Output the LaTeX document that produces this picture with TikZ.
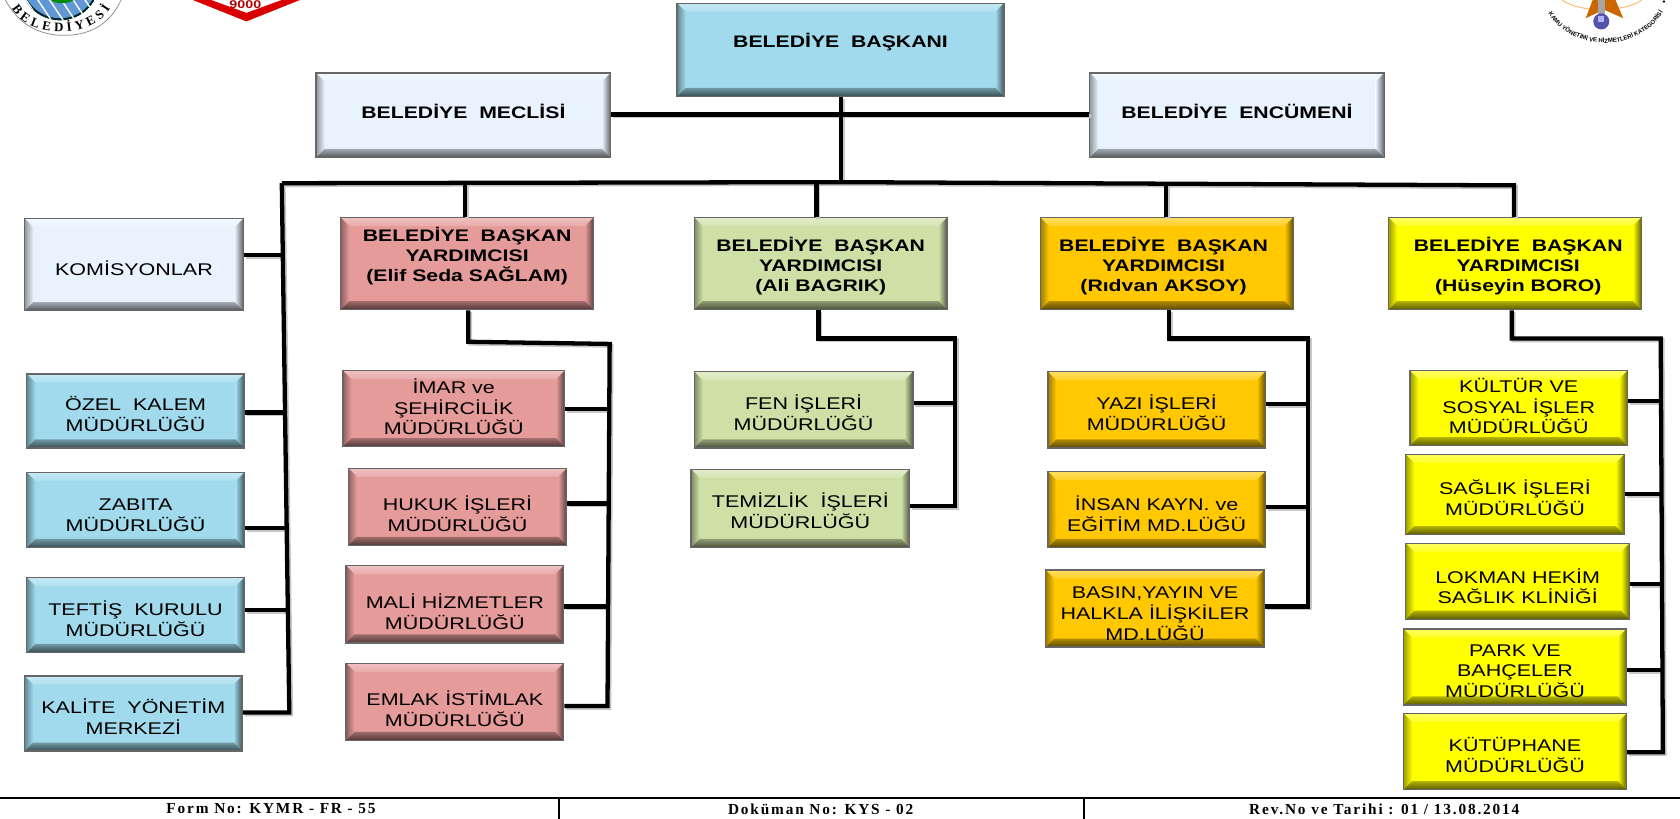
\documentclass[tikz,border=0pt]{standalone}
\usepackage{fontspec}
\setmainfont[FakeStretch=1.27]{Liberation Sans}
\newfontfamily\plainb{Liberation Sans}
\newfontfamily\serifb[LetterSpace=12]{Liberation Serif}
\newfontfamily\serifp{Liberation Serif}
\usetikzlibrary{calc,decorations.text}
\definecolor{cyanb}{HTML}{A0DAEC}
\definecolor{paleb}{HTML}{E8F3FD}
\definecolor{roseb}{HTML}{E59B9A}
\definecolor{greenb}{HTML}{CEE0A6}
\definecolor{amberb}{HTML}{FFC800}
\definecolor{yellowb}{HTML}{FFFF00}
\tikzset{
  x=1pt,y=-1pt,
  orgbox/.style={draw=black!60,line width=1.3pt,rectangle,inner sep=0pt,text=black,font=\fontsize{15.8}{18.7}\selectfont},
  headbox/.style={font=\fontsize{15.6}{18.4}\selectfont\bfseries},
  wireblack/.style={draw=black,line width=4pt,line cap=butt,line join=miter},
  wiresoft/.style={draw=black!22,line width=4pt,line cap=butt,line join=miter,transform canvas={shift={(1.6pt,-1.6pt)}}},
  foot/.style={font=\fontsize{14.3}{15}\serifb\bfseries,inner sep=0pt},
  footline/.style={draw=black,line width=2pt},
}
\def\bevdx{0}
% \bev{name}{l}{t}{r}{b}{colour}{extra}{dy}{text}
\newcommand{\bev}[9]{%
  \pgfmathsetmacro{\bw}{#4-#2}\pgfmathsetmacro{\bh}{#5-#3}%
  \pgfmathsetmacro{\cxx}{(#2+#4)/2}\pgfmathsetmacro{\cyy}{(#3+#5)/2}%
  \pgfmathsetmacro{\rz}{-(#8)-7}\pgfmathsetmacro{\hs}{2*\bevdx}%
  \fill[#6] (#2,#3) rectangle (#4,#5);
  \shade[top color=#6!62!white,bottom color=#6!85!white] (#2,#3) -- (#4,#3) -- (#4-8,#3+8) -- (#2+8,#3+8) -- cycle;
  \shade[left color=#6!62!black,right color=#6] (#2,#3) -- (#2+8,#3+8) -- (#2+8,#5-8) -- (#2,#5) -- cycle;
  \shade[left color=#6,right color=#6!40!black] (#4,#3) -- (#4-8,#3+8) -- (#4-8,#5-8) -- (#4,#5) -- cycle;
  \shade[top color=#6!70!black,bottom color=#6!35!black] (#2,#5) -- (#2+8,#5-8) -- (#4-8,#5-8) -- (#4,#5) -- cycle;
  \node[orgbox,minimum width=\bw pt,minimum height=\bh pt,#7] (#1) at (\cxx,\cyy) {\raisebox{\rz pt}[0pt][0pt]{\makebox[0pt][c]{\hspace*{\hs pt}\begin{tabular}{@{}c@{}}#9\end{tabular}}}};
}
\newcommand{\allwires}[1]{%
\tikzset{wire/.style={#1}}%
\draw[wire] (baskan.south -| trunk) -- (trunk);
\draw[wire] (meclis.east |- 0,107) -- (encumen.west |- 0,107);
\draw[wire] (busL) -- (trunk) -- (busR) -- (huseyin.north -| busR);
\draw[wire] (busL) -- (leftEnd) -- (kalite.east |- leftEnd);
\draw[wire] (434,170) -- (elif.north -| 434,0);
\draw[wire] (762,171) -- (ali.north -| 762,0);
\draw[wire] (1088,172) -- (ridvan.north -| 1088,0);
\draw[wire] (komis.east |- 0,238) -- (265,238);
\draw[wire] (ozel.east |- 0,385) -- (267,385);
\draw[wire] (zabita.east |- 0,493) -- (268,493);
\draw[wire] (teftis.east |- 0,569) -- (269,569);
\draw[wire] (elif.south -| j1) -- (j1) -- (j1r) -- (j1e) -- (emlak.east |- j1e);
\draw[wire] (imar.east |- 0,382) -- (568,382);
\draw[wire] (hukuk.east |- 0,470) -- (568,470);
\draw[wire] (mali.east |- 0,566) -- (568,566);
\draw[wire] (ali.south -| j2) -- (j2) -- (j2r) -- (j2e) -- (temizlik.east |- j2e);
\draw[wire] (fen.east |- 0,376) -- (891,376);
\draw[wire] (ridvan.south -| j3) -- (j3) -- (j3r) -- (j3e) -- (basin.east |- j3e);
\draw[wire] (yazi.east |- 0,377) -- (1221,377);
\draw[wire] (insan.east |- 0,473) -- (1221,473);
\draw[wire] (huseyin.south -| j4) -- (j4) -- (j4r) -- (j4e) -- (kutuphane.east |- j4e);
\draw[wire] (kultur.east |- 0,374) -- (1550,374);
\draw[wire] (saglik.east |- 0,461) -- (1551,461);
\draw[wire] (lokman.east |- 0,545) -- (1551,545);
\draw[wire] (park.east |- 0,625) -- (1551,625);
}
\begin{document}
\begin{tikzpicture}
\useasboundingbox (0,0) rectangle (1568,764.4);
\fill[white] (0,0) rectangle (1568,764.4);
% logos
\begin{scope}
\clip (0,0) rectangle (1568,764.4);
 % left logo
 \fill[white] (5,0) .. controls (18,24) and (38,33) .. (60,33) .. controls (82,33) and (102,24) .. (113,0) -- cycle;
 \draw[black!45,line width=.7pt] (5,0) .. controls (18,24) and (38,33) .. (60,33) .. controls (82,33) and (102,24) .. (113,0);
 \begin{scope}
  \clip (56,-18) circle (37);
  \fill[black!70!teal] (56,-18) circle (37);
  \fill[cyan!55!blue!65] (56,-18) circle (35);
  \foreach \i in {0,...,7}{\draw[white,line width=1.3pt] (12+\i*11,-2) -- (28+\i*11,22);}
  \fill[green!55!black] (58,-8) ellipse (16 and 11);
 \end{scope}
 \path[decorate,decoration={text along path,text align=fit to path,text={|\fontsize{12}{13}\serifp\bfseries|BELEDİYESİ}}] (11,8) .. controls (26,36) and (86,37) .. (103,8);
 % middle logo
 \fill[red!85!black] (180,0) -- (230,20) -- (280,0) -- (263,0) -- (230,12) -- (197,0) -- cycle;
 \node[font=\fontsize{10.5}{11}\selectfont\bfseries,text=red!70!black,inner sep=0pt] (isonum) at (229,4) {9000};
 % right logo
 \draw[orange!55,line width=.9pt] (1495,-8) ellipse (42 and 17);
 \fill[orange!80!black] (1480,17) -- (1488,-4) -- (1506,-4) -- (1515,17) -- (1497,9) -- cycle;
 \fill[black!35] (1491,-2) rectangle (1498,14);
 \fill[blue!35!gray] (1494.5,20) circle (7.5);
 \fill[white!70!blue] (1491,15) rectangle (1497,21);
 \path[decorate,decoration={text along path,text align=center,text={|\fontsize{5.6}{6}\plainb\bfseries|KAMU YÖNETİMİ VE HİZMETLERİ KATEGORİSİ}}] (1441,5) .. controls (1462,52) and (1535,52) .. (1556,4);
 \node[font=\fontsize{7}{7}\selectfont,inner sep=0pt] (dotr) at (1553,3) {•};
\end{scope}
% boxes
\bev{baskan}{632}{3}{937}{90}{cyanb}{headbox}{-9.5}{BELEDİYE\ \ BAŞKANI}
\bev{meclis}{295}{68}{570}{147}{paleb}{headbox}{-4.5}{BELEDİYE\ \ MECLİSİ}
\bev{encumen}{1017}{68}{1292}{147}{paleb}{headbox}{-4.5}{BELEDİYE\ \ ENCÜMENİ}
\bev{komis}{23}{204}{227}{290}{paleb}{}{3}{KOMİSYONLAR}
\bev{elif}{318}{203}{554}{289}{roseb}{headbox}{-9}{BELEDİYE\ \ BAŞKAN\\YARDIMCISI\\(Elif Seda SAĞLAM)}
\bev{ali}{648}{203}{884}{289}{greenb}{headbox}{0}{BELEDİYE\ \ BAŞKAN\\YARDIMCISI\\(Ali BAGRIK)}
\def\bevdx{-3}
\bev{ridvan}{971}{203}{1207}{289}{amberb}{headbox}{0}{BELEDİYE\ \ BAŞKAN\\YARDIMCISI\\(Rıdvan AKSOY)}
\def\bevdx{3}
\bev{huseyin}{1296}{203}{1532}{289}{yellowb}{headbox}{0}{BELEDİYE\ \ BAŞKAN\\YARDIMCISI\\(Hüseyin BORO)}
\def\bevdx{0}
\bev{ozel}{25}{349}{228}{418}{cyanb}{}{2}{ÖZEL\ \ KALEM\\MÜDÜRLÜĞÜ}
\bev{zabita}{25}{441}{228}{511}{cyanb}{}{3}{ZABITA\\MÜDÜRLÜĞÜ}
\bev{teftis}{25}{539}{228}{609}{cyanb}{}{2.5}{TEFTİŞ\ \ KURULU\\MÜDÜRLÜĞÜ}
\bev{kalite}{23}{631}{226}{701}{cyanb}{}{2.5}{KALİTE\ \ YÖNETİM\\MERKEZİ}
\bev{imar}{320}{346}{527}{417}{roseb}{}{-2.5}{İMAR ve\\ŞEHİRCİLİK\\MÜDÜRLÜĞÜ}
\bev{hukuk}{325}{437}{529}{509}{roseb}{}{6}{HUKUK İŞLERİ\\MÜDÜRLÜĞÜ}
\bev{mali}{323}{528}{526}{600}{roseb}{}{6.5}{MALİ HİZMETLER\\MÜDÜRLÜĞÜ}
\bev{emlak}{323}{619}{526}{691}{roseb}{}{6}{EMLAK İSTİMLAK\\MÜDÜRLÜĞÜ}
\bev{fen}{648}{347}{852}{418}{greenb}{}{2}{FEN İŞLERİ\\MÜDÜRLÜĞÜ}
\bev{temizlik}{645}{438}{849}{511}{greenb}{}{1.5}{TEMİZLİK\ \ İŞLERİ\\MÜDÜRLÜĞÜ}
\bev{yazi}{978}{347}{1181}{418}{amberb}{}{2}{YAZI İŞLERİ\\MÜDÜRLÜĞÜ}
\bev{insan}{978}{440}{1181}{511}{amberb}{}{3.5}{İNSAN KAYN. ve\\EĞİTİM MD.LÜĞÜ}
\bev{basin}{976}{532}{1180}{604}{amberb}{}{3}{BASIN,YAYIN VE\\HALKLA İLİŞKİLER\\MD.LÜĞÜ}
\bev{kultur}{1316}{346}{1519}{416}{yellowb}{}{-2.5}{KÜLTÜR VE\\SOSYAL İŞLER\\MÜDÜRLÜĞÜ}
\bev{saglik}{1312}{424}{1516}{499}{yellowb}{}{2.5}{SAĞLIK İŞLERİ\\MÜDÜRLÜĞÜ}
\bev{lokman}{1312}{507}{1521}{578}{yellowb}{}{4}{LOKMAN HEKİM\\SAĞLIK KLİNİĞİ}
\bev{park}{1310}{587}{1518}{658}{yellowb}{}{2}{PARK VE\\BAHÇELER\\MÜDÜRLÜĞÜ}
\bev{kutuphane}{1310}{666}{1518}{737}{yellowb}{}{2.5}{KÜTÜPHANE\\MÜDÜRLÜĞÜ}
% junctions
\coordinate (trunk) at (785,170);
\coordinate (busL) at (263,171);
\coordinate (busR) at (1413,173);
\coordinate (leftEnd) at (270,665);
\coordinate (j1) at (437,319); \coordinate (j1r) at (569,321); \coordinate (j1e) at (567,659);
\coordinate (j2) at (764,316); \coordinate (j2r) at (891,316); \coordinate (j2e) at (891,472);
\coordinate (j3) at (1091,316); \coordinate (j3r) at (1221,316); \coordinate (j3e) at (1221,566);
\coordinate (j4) at (1411,316); \coordinate (j4r) at (1550,316); \coordinate (j4e) at (1552,702);
% connectors: soft shadows first, then the black lines
\allwires{wiresoft}
\allwires{wireblack}
% footer
\draw[footline] (0,745) -- (1568,745);
\draw[footline] (522,745) -- (522,764.4);
\draw[footline] (1012,745) -- (1012,764.4);
\node[foot] (f1) at (253,755) {Form No: KYMR - FR - 55};
\node[foot] (f2) at (766,755) {Doküman No: KYS - 02};
\node[foot] (f3) at (1292,755) {Rev.No ve Tarihi : 01 / 13.08.2014};
\end{tikzpicture}
\end{document}
